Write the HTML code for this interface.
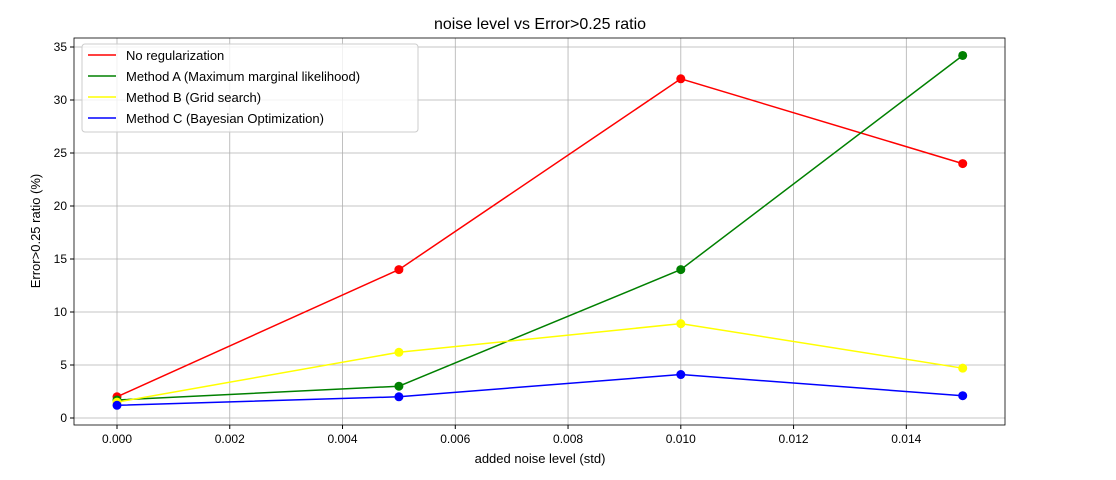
<!DOCTYPE html>
<html><head><meta charset="utf-8"><style>body{margin:0;background:#fff}svg{font-family:"Liberation Sans","DejaVu Sans",sans-serif}</style></head>
<body>
<svg id="chart" width="1116" height="475" xmlns="http://www.w3.org/2000/svg"></svg>
<script>
const xValues=[0,0.005,0.010,0.015];
const seriesNames=["No regularization","Method A (Maximum marginal likelihood)","Method B (Grid search)","Method C (Bayesian Optimization)"];
const seriesColors=["red","green","yellow","blue"];
const noReg=[2,14,32,24];
const methodA=[1.7,3.0,14,34.2];
const methodB=[1.5,6.2,8.9,4.7];
const methodC=[1.2,2.0,4.1,2.1];
const xTicks=[0,0.002,0.004,0.006,0.008,0.010,0.012,0.014];
const xTickLabels=["0.000","0.002","0.004","0.006","0.008","0.010","0.012","0.014"];
const yTicks=[0,5,10,15,20,25,30,35];
const series=[noReg,methodA,methodB,methodC];
const L=74,R=1005,T=38,B=425;
const X=v=>117+v*56380;
const Y=v=>418-v*10.6;
const svg=document.getElementById('chart');
const NS="http://www.w3.org/2000/svg";
function mk(tag,attrs,parent){const e=document.createElementNS(NS,tag);for(const k in attrs)e.setAttribute(k,attrs[k]);(parent||svg).appendChild(e);return e;}
// grid
xTicks.forEach((t,i)=>{const x=X(t);
 const g=mk('line',{x1:x,x2:x,y1:T,y2:B,stroke:'#b0b0b0','stroke-width':0.8});
 
 mk('line',{x1:x,x2:x,y1:B,y2:B+4,stroke:'#000'});
 const tx=mk('text',{x:x,y:B+18,'font-size':12,'text-anchor':'middle'});tx.textContent=xTickLabels[i];
 });
yTicks.forEach(t=>{const y=Y(t);
 const g=mk('line',{x1:L,x2:R,y1:y,y2:y,stroke:'#b0b0b0','stroke-width':0.8});
 
 mk('line',{x1:L-4,x2:L,y1:y,y2:y,stroke:'#000'});
 const tx=mk('text',{x:L-7,y:y+4,'font-size':12,'text-anchor':'end'});tx.textContent=t;
 });
// series
series.forEach((s,si)=>{
 const pl=mk('polyline',{points:s.map((v,i)=>X(xValues[i])+','+Y(v)).join(' '),fill:'none',stroke:seriesColors[si],'stroke-width':1.5});
 
 s.forEach((v,i)=>{const c=mk('circle',{cx:X(xValues[i]),cy:Y(v),r:4.5,fill:seriesColors[si]});
  });
});
const fr=mk('rect',{x:L,y:T,width:R-L,height:B-T,fill:'none',stroke:'#000','stroke-width':0.8});

// legend
const lg=mk('g',{});
mk('rect',{x:82,y:44,width:336,height:88,rx:3,fill:'#fff','fill-opacity':0.8,stroke:'#ccc'},lg);
seriesNames.forEach((n,i)=>{const y=55+i*21;
 mk('line',{x1:88,x2:116,y1:y,y2:y,stroke:seriesColors[i],'stroke-width':1.5},lg);
 const t=mk('text',{x:126,y:y+5,'font-size':13},lg);t.textContent=n;
 });
const ti=mk('text',{x:540,y:29,'font-size':16,'text-anchor':'middle'});ti.textContent='noise level vs Error>0.25 ratio';

const xt=mk('text',{x:540,y:463,'font-size':13,'text-anchor':'middle'});xt.textContent='added noise level (std)';

const yt=mk('text',{x:0,y:0,'font-size':13,'text-anchor':'middle',transform:'translate(40,231) rotate(-90)'});yt.textContent='Error>0.25 ratio (%)';

</script>
</body></html>
